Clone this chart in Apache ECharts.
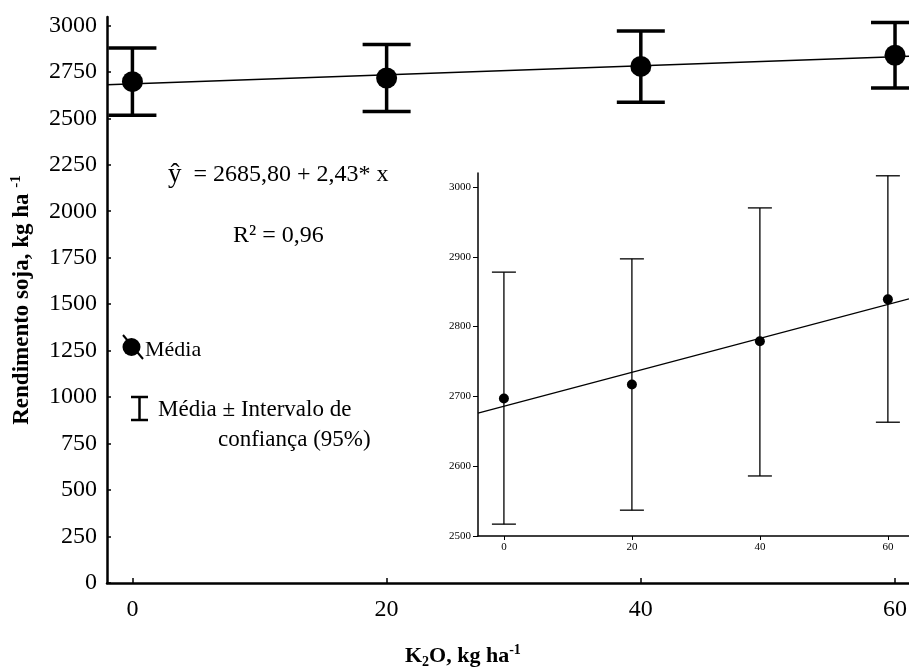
<!DOCTYPE html>
<html>
<head>
<meta charset="utf-8">
<script src="https://cdn.jsdelivr.net/npm/echarts@6/dist/echarts.min.js"></script>
<style>
  html, body { margin: 0; padding: 0; background: #fff; }
  #chart { width: 909px; height: 668px; }
</style>
</head>
<body>
<div id="chart"></div>
<script>
// doses de K2O e rendimento medio da soja
var doses = [0, 20, 40, 60];
var media = [2697, 2717, 2779, 2839];
var icInf = [2517, 2537, 2586, 2663];
var icSup = [2878, 2897, 2970, 3016];

// regressao linear: y = 2685,80 + 2,43 x
var intercepto = 2685.80;
var inclinacao = 2.43;

var xTicks = [0, 20, 40, 60];
var yTicksMain = [0, 250, 500, 750, 1000, 1250, 1500, 1750, 2000, 2250, 2500, 2750, 3000];
var yTicksInset = [2500, 2600, 2700, 2800, 2900, 3000];

var FONT = "'Liberation Serif', 'Times New Roman', serif";

function reta(x0, x1) {
  return [[x0, intercepto + inclinacao * x0], [x1, intercepto + inclinacao * x1]];
}

function pontos() {
  return doses.map(function (d, i) { return [d, media[i]]; });
}

function barras() {
  return doses.map(function (d, i) { return [d, icInf[i], icSup[i]]; });
}

function plain(v) { return String(v); }

function errorBar(capHalf, lw) {
  return function (params, api) {
    var x = api.value(0);
    var lo = api.coord([x, api.value(1)]);
    var hi = api.coord([x, api.value(2)]);
    var st = { stroke: '#000', lineWidth: lw };
    return {
      type: 'group',
      children: [
        { type: 'line', shape: { x1: lo[0], y1: lo[1], x2: hi[0], y2: hi[1] }, style: st },
        { type: 'line', shape: { x1: lo[0] - capHalf, y1: lo[1], x2: lo[0] + capHalf, y2: lo[1] }, style: st },
        { type: 'line', shape: { x1: hi[0] - capHalf, y1: hi[1], x2: hi[0] + capHalf, y2: hi[1] }, style: st }
      ]
    };
  };
}

function txt(x, y, s, size) {
  return {
    type: 'text', x: x, y: y,
    style: { text: s, font: size + 'px ' + FONT, fill: '#000', verticalAlign: 'middle' }
  };
}

var chart = echarts.init(document.getElementById('chart'));

var option = {
  animation: false,
  backgroundColor: '#fff',
  textStyle: { fontFamily: FONT, color: '#000' },
  grid: [
    { left: 107, right: 0, top: 17, bottom: 85, outerBoundsMode: 'none' },
    { left: 478, right: 0, top: 173, bottom: 132, outerBoundsMode: 'none' }
  ],
  xAxis: [
    {
      type: 'value', gridIndex: 0, min: -2, max: 61.1,
      axisLine: { onZero: false, lineStyle: { color: '#000', width: 2.5 } },
      axisTick: { inside: true, length: 5, lineStyle: { color: '#000', width: 1.5 }, customValues: xTicks },
      axisLabel: { fontSize: 24, fontFamily: FONT, color: '#000', margin: 15, customValues: xTicks, formatter: plain },
      splitLine: { show: false }
    },
    {
      type: 'value', gridIndex: 1, min: -4.05, max: 63.3,
      axisLine: { onZero: false, lineStyle: { color: '#000', width: 1.5 } },
      axisTick: { length: 4, lineStyle: { color: '#000', width: 1 }, customValues: xTicks },
      axisLabel: { fontSize: 11, fontFamily: FONT, color: '#000', margin: 6, customValues: xTicks, formatter: plain },
      splitLine: { show: false }
    }
  ],
  yAxis: [
    {
      type: 'value', gridIndex: 0, min: 0, max: 3045,
      axisLine: { show: true, onZero: false, lineStyle: { color: '#000', width: 2.5 } },
      axisTick: { show: true, inside: true, length: 4, lineStyle: { color: '#000', width: 1.5 }, customValues: yTicksMain },
      axisLabel: { fontSize: 24, fontFamily: FONT, color: '#000', margin: 10, customValues: yTicksMain, formatter: plain },
      splitLine: { show: false },
      name: 'Rendimento soja, kg ha {sup|-1}',
      nameLocation: 'middle',
      nameRotate: 90,
      nameGap: 72,
      nameTextStyle: {
        fontFamily: FONT, fontWeight: 'bold', fontSize: 23, color: '#000', lineHeight: 26,
        rich: { sup: { fontFamily: FONT, fontWeight: 'bold', fontSize: 15, verticalAlign: 'top', lineHeight: 26 } }
      }
    },
    {
      type: 'value', gridIndex: 1, min: 2500, max: 3020,
      axisLine: { show: true, onZero: false, lineStyle: { color: '#000', width: 1.5 } },
      axisTick: { show: true, length: 5, lineStyle: { color: '#000', width: 1 }, customValues: yTicksInset },
      axisLabel: { fontSize: 11, fontFamily: FONT, color: '#000', margin: 7, customValues: yTicksInset, formatter: plain },
      splitLine: { show: false }
    }
  ],
  series: [
    {
      name: 'reta', type: 'line', xAxisIndex: 0, yAxisIndex: 0,
      data: reta(-2, 61.1), showSymbol: false, z: 1,
      lineStyle: { color: '#000', width: 1.5 }
    },
    {
      name: 'ic', type: 'custom', xAxisIndex: 0, yAxisIndex: 0,
      data: barras(), renderItem: errorBar(24, 3.5), z: 2
    },
    {
      name: 'Média', type: 'scatter', xAxisIndex: 0, yAxisIndex: 0,
      data: pontos(), symbol: 'circle', symbolSize: 21, z: 3,
      itemStyle: { color: '#000', opacity: 1 }
    },
    {
      name: 'reta2', type: 'line', xAxisIndex: 1, yAxisIndex: 1,
      data: reta(-4.05, 63.3), showSymbol: false, z: 1,
      lineStyle: { color: '#000', width: 1.3 }
    },
    {
      name: 'ic2', type: 'custom', xAxisIndex: 1, yAxisIndex: 1,
      data: barras(), renderItem: errorBar(12, 1.3), z: 2
    },
    {
      name: 'Média2', type: 'scatter', xAxisIndex: 1, yAxisIndex: 1,
      data: pontos(), symbol: 'circle', symbolSize: 10, z: 3,
      itemStyle: { color: '#000', opacity: 1 }
    }
  ],
  graphic: [
    {
      type: 'text', x: 168, y: 175,
      style: {
        text: '{a|ŷ}{b|  = 2685,80 + 2,43* x}',
        verticalAlign: 'middle',
        rich: {
          a: { fontFamily: FONT, fontSize: 27, fill: '#000' },
          b: { fontFamily: FONT, fontSize: 24, fill: '#000' }
        }
      }
    },
    txt(233, 236, 'R² = 0,96', 24),
    // legenda: media
    { type: 'circle', shape: { cx: 131.5, cy: 347, r: 9 }, style: { fill: '#000' } },
    { type: 'line', shape: { x1: 123, y1: 335, x2: 143, y2: 359 }, style: { stroke: '#000', lineWidth: 2 } },
    txt(145, 350, 'Média', 22),
    // legenda: intervalo de confianca
    { type: 'line', shape: { x1: 139.5, y1: 397, x2: 139.5, y2: 420 }, style: { stroke: '#000', lineWidth: 2.5 } },
    { type: 'line', shape: { x1: 131, y1: 397, x2: 148, y2: 397 }, style: { stroke: '#000', lineWidth: 2.5 } },
    { type: 'line', shape: { x1: 131, y1: 420, x2: 148, y2: 420 }, style: { stroke: '#000', lineWidth: 2.5 } },
    txt(158, 410, 'Média ± Intervalo de', 23),
    txt(218, 440, 'confiança (95%)', 23),
    // titulo do eixo x
    {
      type: 'text', x: 405, y: 656,
      style: {
        text: 'K{sub|2}O, kg ha{sup|-1}',
        font: 'bold 22px ' + FONT, fill: '#000', lineHeight: 26, verticalAlign: 'middle',
        rich: {
          sub: { font: 'bold 14px ' + FONT, verticalAlign: 'bottom', lineHeight: 26, fill: '#000' },
          sup: { font: 'bold 14px ' + FONT, verticalAlign: 'top', lineHeight: 26, fill: '#000' }
        }
      }
    }
  ]
};

chart.setOption(option);
</script>
</body>
</html>
